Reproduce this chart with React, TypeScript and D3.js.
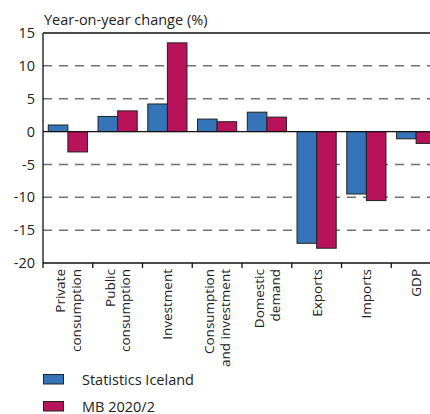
import React from "react";
import * as d3 from "d3";

const categories: string[][] = [
  ["Private", "consumption"],
  ["Public", "consumption"],
  ["Investment"],
  ["Consumption", "and investment"],
  ["Domestic", "demand"],
  ["Exports"],
  ["Imports"],
  ["GDP"],
];
const statisticsIceland = [1.0, 2.3, 4.2, 1.9, 2.95, -17.0, -9.5, -1.1];
const mb2020 = [-3.1, 3.15, 13.5, 1.5, 2.2, -17.75, -10.5, -1.8];
const seriesNames = ["Statistics Iceland", "MB 2020/2"];
const yTicks = [15, 10, 5, 0, -5, -10, -15, -20];

const W = 430;
const H = 414;
const left = 43;
const right = 441;
const top = 33;
const bottom = 263;
const colors = ["#3574B9", "#B8125A"];
const FONT = "'Open Sans', sans-serif";

export default function App() {
  const keys = categories.map((_, i) => String(i));
  const x = d3.scaleBand<string>().domain(keys).range([left, right]).paddingInner(0).paddingOuter(0);
  const inner = d3.scaleBand<string>().domain(["0", "1"]).range([0, x.bandwidth()]).paddingOuter(0.27).paddingInner(0);
  const y = d3.scaleLinear().domain([-20, 15]).range([bottom, top]);
  const series = [statisticsIceland, mb2020];

  return (
    <svg width={W} height={H} style={{ position: "absolute", left: 0, top: 0 }} fontFamily={FONT}>
      <rect width={W} height={H} fill="#fff" />
      <text x={44} y={25} fontSize={14.5} fill="#222">Year-on-year change (%)</text>
      {yTicks.filter((t) => t !== 0 && t !== 15 && t !== -20).map((t) => (
        <line key={t} x1={left} x2={W} y1={y(t)} y2={y(t)} stroke="#707070" strokeWidth={1.5} strokeDasharray="9,7" />
      ))}
      <line x1={left} x2={W} y1={y(15)} y2={y(15)} stroke="#111" strokeWidth={1.3} />
      {yTicks.map((t) => (
        <text key={t} x={35} y={y(t)} dy="0.35em" textAnchor="end" fontSize={14.5} fill="#222">{t}</text>
      ))}
      {series.map((s, si) =>
        s.map((v, i) => (
          <rect
            key={si + "-" + i}
            x={(x(String(i)) as number) + (inner(String(si)) as number)}
            width={inner.bandwidth()}
            y={Math.min(y(v), y(0))}
            height={Math.abs(y(v) - y(0))}
            fill={colors[si]}
            stroke="#222"
            strokeWidth={1}
          />
        ))
      )}
      <line x1={left} x2={W} y1={y(0)} y2={y(0)} stroke="#111" strokeWidth={1.3} />
      <line x1={left} x2={W} y1={y(-20)} y2={y(-20)} stroke="#111" strokeWidth={1.3} />
      <line x1={left} x2={left} y1={y(15)} y2={bottom + 5} stroke="#111" strokeWidth={1.3} />
      {keys.slice(1).map((k) => (
        <line key={k} x1={x(k) as number} x2={x(k) as number} y1={bottom} y2={bottom + 5} stroke="#111" strokeWidth={1.3} />
      ))}
      {categories.map((lines, i) => {
        const cx = (x(String(i)) as number) + x.bandwidth() / 2;
        const lh = 15.5;
        return lines.map((ln, li) => {
          const off = (li - (lines.length - 1) / 2) * lh;
          const bx = cx + off + 5;
          return (
            <text key={i + "-" + li} transform={`translate(${bx},${bottom + 6}) rotate(-90)`} textAnchor="end" fontSize={13.5} fill="#222">{ln}</text>
          );
        });
      })}
      {seriesNames.map((n, i) => (
        <g key={n} transform={`translate(43,${374 + i * 27})`}>
          <rect x={0.5} y={0.5} width={20} height={9.5} fill={colors[i]} stroke="#222" strokeWidth={1} />
          <text x={39} y={10.5} fontSize={14.5} fill="#222">{n}</text>
        </g>
      ))}
    </svg>
  );
}
